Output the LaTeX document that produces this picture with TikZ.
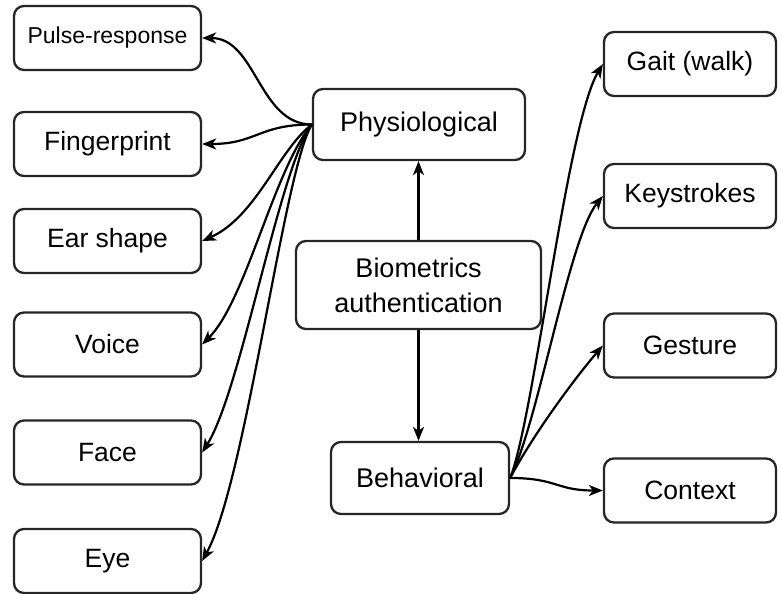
\documentclass[tikz,border=0pt]{standalone}
\usepackage{fontspec}
\setmainfont{Liberation Sans}
\usetikzlibrary{arrows.meta}

\begin{document}
\begin{tikzpicture}[x=1pt,y=-1pt,
  box/.style={draw=black!85, line width=2.3pt, rounded corners=10pt,
    inner sep=0pt, align=center, font=\fontsize{26.5}{33}\selectfont},
  leftbox/.style={box, minimum width=187pt, minimum height=64pt},
  rightbox/.style={box, minimum width=172pt, minimum height=64pt},
  link/.style={line width=2.2pt, -{Stealth[length=14pt,width=11pt,inset=4pt]}}
]
\useasboundingbox (0,0) rectangle (782,594);

% left column: physiological traits
\node[leftbox, font=\fontsize{23}{28}\selectfont] (pulse) at (107.5,38) {Pulse-response};
\node[leftbox] (finger) at (107.5,144) {Fingerprint};
\node[leftbox] (ear)    at (107.5,241) {Ear shape};
\node[leftbox] (voice)  at (107.5,344.5) {Voice};
\node[leftbox] (face)   at (107.5,452.5) {Face};
\node[leftbox] (eye)    at (107.5,561) {Eye};

% centre column
\node[box, font=\fontsize{27}{35}\selectfont, minimum width=212pt, minimum height=71pt] (phys) at (419,124.5) {Physiological};
\node[box, font=\fontsize{27}{35}\selectfont, minimum width=245pt, minimum height=88pt] (bio) at (418.5,285) {Biometrics\\authentication};
\node[box, font=\fontsize{27}{35}\selectfont, minimum width=178pt, minimum height=72pt] (behav) at (420,478) {Behavioral};

% right column: behavioral traits
\node[rightbox] (gait)    at (690,64)    {Gait (walk)};
\node[rightbox] (keys)    at (690,196)   {Keystrokes};
\node[rightbox] (gesture) at (690,345.5) {Gesture};
\node[rightbox] (context) at (690,490.5) {Context};

% main hierarchy
\draw[link] (bio.north) -- (bio.north |- phys.south);
\draw[link] (bio.south) -- (bio.south |- behav.north);

% physiological branches
\draw[link] (phys.west) .. controls +(-53,0) and +(54,0) .. (pulse.east);
\draw[link] (phys.west) .. controls +(-53,0) and +(54,0) .. (finger.east);
\draw[link] (phys.west) .. controls +(-33,25) and +(54,-24) .. (ear.east);
\draw[link] (phys.west) .. controls +(-38,45) and +(44,-44) .. (voice.east);
\draw[link] (phys.west) .. controls +(-33,45) and +(39,-62) .. (face.east);
\draw[link] (phys.west) .. controls +(-28,45) and +(44,-80) .. (eye.east);

% behavioral branches
\draw[link] (behav.east) .. controls +(24,-60) and +(-36,60) .. (gait.west);
\draw[link] (behav.east) .. controls +(28,-55) and +(-34,42) .. (keys.west);
\draw[link] (behav.east) .. controls +(20,-38) and +(-34,40) .. (gesture.west);
\draw[link] (behav.east) .. controls +(47,0) and +(-47,0) .. (context.west);
\end{tikzpicture}
\end{document}
